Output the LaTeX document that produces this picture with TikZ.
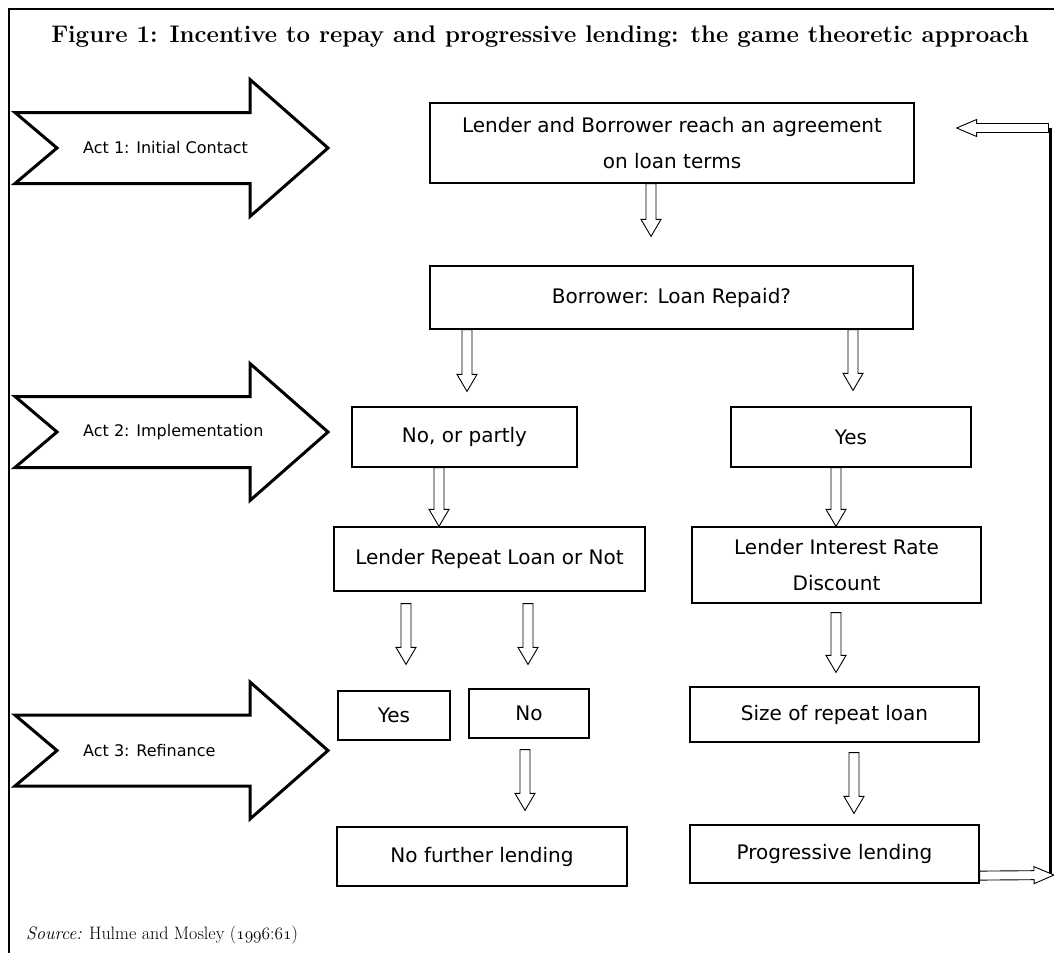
\documentclass[tikz,border=0pt]{standalone}
\usepackage{fontspec}
\usepackage{tikz}
\usetikzlibrary{calc}
\newfontfamily\boxfont{DejaVu Sans}

\begin{document}
\begin{tikzpicture}[x=1pt,y=-1pt,
  box/.style={draw, line width=1.2pt, inner sep=0pt, align=center,
    font=\boxfont\fontsize{20}{36}\selectfont},
  acttext/.style={anchor=west, inner sep=0pt, font=\boxfont\fontsize{16}{19}\selectfont},
  actarrow/.style={draw, line width=3pt, line join=miter},
  hollow/.style n args={3}{draw, line width=0.9pt, fill=white, line join=miter,
    to path={let \p1=(\tikztostart), \p2=(\tikztotarget),
      \n1={atan2(\y2-\y1,\x2-\x1)}, \n2={veclen(\x2-\x1,\y2-\y1)-#3} in
      ($(\p1)+(\n1+90:#1pt)$) -- ($(\p1)+(\n1:{\n2*1pt})+(\n1+90:#1pt)$)
      -- ($(\p1)+(\n1:{\n2*1pt})+(\n1+90:#2pt)$) -- (\p2)
      -- ($(\p1)+(\n1:{\n2*1pt})+(\n1-90:#2pt)$)
      -- ($(\p1)+(\n1:{\n2*1pt})+(\n1-90:#1pt)$)
      -- ($(\p1)+(\n1-90:#1pt)$) -- cycle}},
  fat/.style={hollow={5}{10}{17}},
  thinfat/.style={hollow={4.5}{8.5}{20}}]
\useasboundingbox (0,0) rectangle (1054,953);
%% frame and title
\draw[line width=2.5pt] (1054,9) -- (9,9) -- (9,953);
\node[font=\fontsize{24}{28}\selectfont\bfseries] (title) at (540,37)
  {Figure 1: Incentive to repay and progressive lending: the game theoretic approach};

%% act arrows
\draw[actarrow] (15,112.5) -- (250,112.5) -- (250,79.5) -- (328,148) -- (250,216.5)
  -- (250,183.5) -- (15,183.5) -- (57,148) -- cycle;
\draw[actarrow] (15,396.5) -- (250,396.5) -- (250,363.5) -- (328,432) -- (250,500.5)
  -- (250,467.5) -- (15,467.5) -- (57,432) -- cycle;
\draw[actarrow] (15,715) -- (250,715) -- (250,682) -- (328,750.5) -- (250,819)
  -- (250,786) -- (15,786) -- (57,750.5) -- cycle;
\node[acttext] (actone) at (83,148) {Act 1: Initial Contact};
\node[acttext] (acttwo) at (83,432) {Act 2: Implementation};
\node[acttext] (actthree) at (83,750.5) {Act 3: Refinance};

%% boxes
\node[box, minimum width=484pt, minimum height=80pt] (agree) at (672,143)
  {Lender and Borrower reach an agreement\\on loan terms};
\node[box, minimum width=483pt, minimum height=63pt] (repaid) at (671.5,297.5)
  {Borrower: Loan Repaid?};
\node[box, minimum width=225pt, minimum height=60pt] (partly) at (464.5,437) {No, or partly};
\node[box, minimum width=240pt, minimum height=60pt] (paidyes) at (851,437) {Yes};
\node[box, minimum width=311pt, minimum height=64pt] (repeat) at (489.5,559)
  {Lender Repeat Loan or Not};
\node[box, minimum width=289pt, minimum height=76pt] (discount) at (836.5,565)
  {Lender Interest Rate\\Discount};
\node[box, minimum width=112pt, minimum height=49pt] (refyes) at (394,715.5) {Yes};
\node[box, minimum width=120pt, minimum height=49pt] (refno) at (529,713.5) {No};
\node[box, minimum width=289pt, minimum height=55pt] (size) at (834.5,714.5)
  {Size of repeat loan};
\node[box, minimum width=290pt, minimum height=59pt] (nomore) at (482,856.5)
  {No further lending};
\node[box, minimum width=289pt, minimum height=58pt] (prog) at (834.5,854)
  {Progressive lending};

%% connectors
\draw[fat] ($(agree.south)+(-21,0)$) to ($(repaid.north)+(-20.5,-29)$);
\draw[fat] ($(repaid.south)+(-204.5,0)$) to ($(partly.north)+(2.5,-15)$);
\draw[fat] ($(repaid.south)+(181.5,0)$) to ($(paidyes.north)+(2,-16)$);
\draw[fat] ($(partly.south)+(-25.5,0)$) to ($(repeat.north)+(-50.5,0)$);
\draw[fat] ($(paidyes.south)+(-15,0)$) to ($(discount.north)+(-0.5,0)$);
\draw[fat] ($(repeat.south)+(-83.5,12)$) to ($(refyes.north)+(12,-26)$);
\draw[fat] ($(repeat.south)+(38.5,12)$) to ($(refno.north)+(-1,-24)$);
\draw[fat] ($(refno.south)+(-4,11)$) to ($(nomore.north)+(43,-16)$);
\draw[fat] ($(discount.south)+(-0.5,9)$) to ($(size.north)+(1.5,-14)$);
\draw[fat] ($(size.south)+(19.5,10)$) to ($(prog.north)+(19.5,-11)$);

%% loop back
\coordinate (loopbot) at (1050,875);
\coordinate (looptop) at (1050,128);
\draw[line width=3pt] (loopbot) -- (looptop);
\draw[thinfat] ($(prog.south east)+(0,-8)$) to ($(loopbot)+(4,0)$);
\draw[thinfat] ($(looptop)+(-1.5,0)$) to ($(agree.east)+(42,-15)$);

%% source
\node[anchor=west, inner sep=0pt, font=\fontsize{18}{21}\selectfont] (src) at (26,935)
  {\textit{Source:} Hulme and Mosley ($\mathnormal{1996}$:$\mathnormal{61}$)};
\end{tikzpicture}
\end{document}
